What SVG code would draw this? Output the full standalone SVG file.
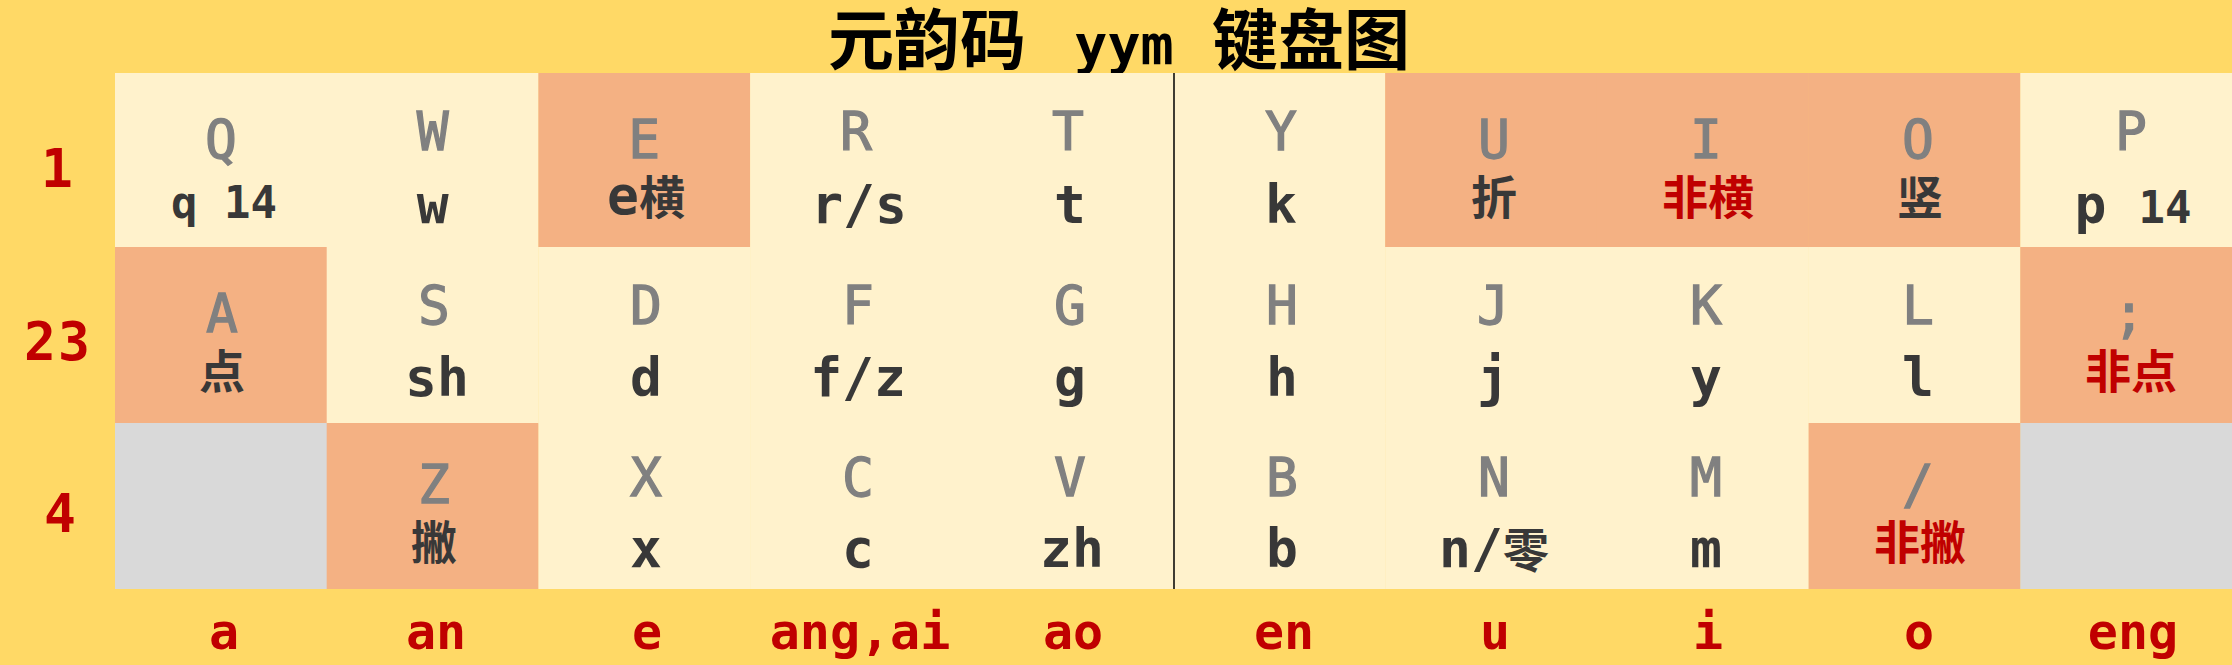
<svg xmlns="http://www.w3.org/2000/svg" width="2232" height="665" viewBox="0 0 2232 665">
<style>
.bg{fill:#FFD966}
.lt{fill:#FFF2CC}
.or{fill:#F4B183}
.gy{fill:#D9D9D9}
text{font-family:"DejaVu Sans Mono","Noto Sans CJK SC",monospace;text-anchor:middle}
.up{font-size:53px;fill:#808080;stroke:#808080;stroke-width:1.3px}
.lo{font-size:53px;font-weight:bold;fill:#383838}
.cj{font-family:"Noto Sans CJK SC",sans-serif;font-size:46px;font-weight:bold}
.red{fill:#C00000}
.sm{font-size:44px}
.rl{font-size:53px;font-weight:bold;fill:#C00000}
.bl{font-size:50px;font-weight:bold;fill:#C00000}
.title{font-weight:bold;fill:#000}
</style>
<rect class="bg" x="0" y="0" width="2232" height="665"/>
<g id="title">
<text class="title" y="64"><tspan class="cj" x="927" style="font-size:66px">元韵码</tspan><tspan x="1124" style="font-size:55px">yym</tspan><tspan class="cj" x="1311" style="font-size:66px">键盘图</tspan></text>
</g>
<g id="row-labels">
<text class="rl" x="57" y="187">1</text>
<text class="rl" x="58" y="360" letter-spacing="2">23</text>
<text class="rl" x="60" y="532">4</text>
</g>
<!-- Row 1 -->
<g id="key-Q"><rect class="lt" x="115" y="73" width="212" height="174.5"/><text class="up" x="221" y="158">Q</text><text class="lo sm" x="224" y="218">q 14</text></g>
<g id="key-W"><rect class="lt" x="326.7" y="73" width="212" height="174.5"/><text class="up" x="432.6" y="150">W</text><text class="lo" x="432.6" y="223">w</text></g>
<g id="key-E"><rect class="or" x="538.4" y="73" width="212" height="174.5"/><text class="up" x="644.3" y="158">E</text><text class="lo" x="646" y="214">e<tspan class="cj">横</tspan></text></g>
<g id="key-R"><rect class="lt" x="750.1" y="73" width="212" height="174.5"/><text class="up" x="856" y="150">R</text><text class="lo" x="859" y="223">r/s</text></g>
<g id="key-T"><rect class="lt" x="961.8" y="73" width="212" height="174.5"/><text class="up" x="1068" y="150">T</text><text class="lo" x="1070" y="223">t</text></g>
<g id="key-Y"><rect class="lt" x="1173.5" y="73" width="212" height="174.5"/><text class="up" x="1281" y="150">Y</text><text class="lo" x="1281" y="223">k</text></g>
<g id="key-U"><rect class="or" x="1385.2" y="73" width="212" height="174.5"/><text class="up" x="1494" y="158">U</text><text class="lo cj" x="1494" y="214">折</text></g>
<g id="key-I"><rect class="or" x="1596.9" y="73" width="212" height="174.5"/><text class="up" x="1706" y="158">I</text><text class="lo cj red" x="1708" y="214">非横</text></g>
<g id="key-O"><rect class="or" x="1808.6" y="73" width="212" height="174.5"/><text class="up" x="1918" y="158">O</text><text class="lo cj" x="1920" y="214">竖</text></g>
<g id="key-P"><rect class="lt" x="2020.3" y="73" width="212" height="174.5"/><text class="up" x="2131" y="150">P</text><text class="lo" x="2133" y="223">p <tspan class="sm">14</tspan></text></g>
<!-- Row 2 -->
<g id="key-A"><rect class="or" x="115" y="247" width="212" height="176.5"/><text class="up" x="222" y="332">A</text><text class="lo cj" x="222" y="388">点</text></g>
<g id="key-S"><rect class="lt" x="326.7" y="247" width="212" height="176.5"/><text class="up" x="434" y="324">S</text><text class="lo" x="437" y="396">sh</text></g>
<g id="key-D"><rect class="lt" x="538.4" y="247" width="212" height="176.5"/><text class="up" x="646" y="324">D</text><text class="lo" x="646" y="396">d</text></g>
<g id="key-F"><rect class="lt" x="750.1" y="247" width="212" height="176.5"/><text class="up" x="858" y="324">F</text><text class="lo" x="858" y="396">f/z</text></g>
<g id="key-G"><rect class="lt" x="961.8" y="247" width="212" height="176.5"/><text class="up" x="1070" y="324">G</text><text class="lo" x="1070" y="396">g</text></g>
<g id="key-H"><rect class="lt" x="1173.5" y="247" width="212" height="176.5"/><text class="up" x="1282" y="324">H</text><text class="lo" x="1282" y="396">h</text></g>
<g id="key-J"><rect class="lt" x="1385.2" y="247" width="212" height="176.5"/><text class="up" x="1493" y="324">J</text><text class="lo" x="1493" y="396">j</text></g>
<g id="key-K"><rect class="lt" x="1596.9" y="247" width="212" height="176.5"/><text class="up" x="1706" y="324">K</text><text class="lo" x="1706" y="396">y</text></g>
<g id="key-L"><rect class="lt" x="1808.6" y="247" width="212" height="176.5"/><text class="up" x="1918" y="324">L</text><text class="lo" x="1918" y="396">l</text></g>
<g id="key-semicolon"><rect class="or" x="2020.3" y="247" width="212" height="176.5"/><text class="up" x="2129" y="332">;</text><text class="lo cj red" x="2131" y="388">非点</text></g>
<!-- Row 3 -->
<g id="key-empty-left"><rect class="gy" x="115" y="423" width="212" height="166"/></g>
<g id="key-Z"><rect class="or" x="326.7" y="423" width="212" height="166"/><text class="up" x="434" y="503">Z</text><text class="lo cj" x="434" y="559">撇</text></g>
<g id="key-X"><rect class="lt" x="538.4" y="423" width="212" height="166"/><text class="up" x="646" y="496">X</text><text class="lo" x="646" y="567">x</text></g>
<g id="key-C"><rect class="lt" x="750.1" y="423" width="212" height="166"/><text class="up" x="858" y="496">C</text><text class="lo" x="858" y="567">c</text></g>
<g id="key-V"><rect class="lt" x="961.8" y="423" width="212" height="166"/><text class="up" x="1070" y="496">V</text><text class="lo" x="1072" y="567">zh</text></g>
<g id="key-B"><rect class="lt" x="1173.5" y="423" width="212" height="166"/><text class="up" x="1282" y="496">B</text><text class="lo" x="1282" y="567">b</text></g>
<g id="key-N"><rect class="lt" x="1385.2" y="423" width="212" height="166"/><text class="up" x="1494" y="496">N</text><text class="lo" x="1494" y="567">n/<tspan class="cj">零</tspan></text></g>
<g id="key-M"><rect class="lt" x="1596.9" y="423" width="212" height="166"/><text class="up" x="1706" y="496">M</text><text class="lo" x="1706" y="567">m</text></g>
<g id="key-slash"><rect class="or" x="1808.6" y="423" width="212" height="166"/><text class="up" x="1918" y="503">/</text><text class="lo cj red" x="1920" y="559">非撇</text></g>
<g id="key-empty-right"><rect class="gy" x="2020.3" y="423" width="212" height="166"/></g>
<g id="connectors">
<line x1="1174" y1="73" x2="1174" y2="589" stroke="#000" stroke-width="1.5"/>
</g>
<g id="column-labels">
<text class="bl" x="224" y="649">a</text>
<text class="bl" x="436" y="649">an</text>
<text class="bl" x="647" y="649">e</text>
<text class="bl" x="860" y="649">ang,ai</text>
<text class="bl" x="1073" y="649">ao</text>
<text class="bl" x="1284" y="649">en</text>
<text class="bl" x="1495" y="649">u</text>
<text class="bl" x="1708" y="649">i</text>
<text class="bl" x="1919" y="649">o</text>
<text class="bl" x="2133" y="649">eng</text>
</g>
</svg>
